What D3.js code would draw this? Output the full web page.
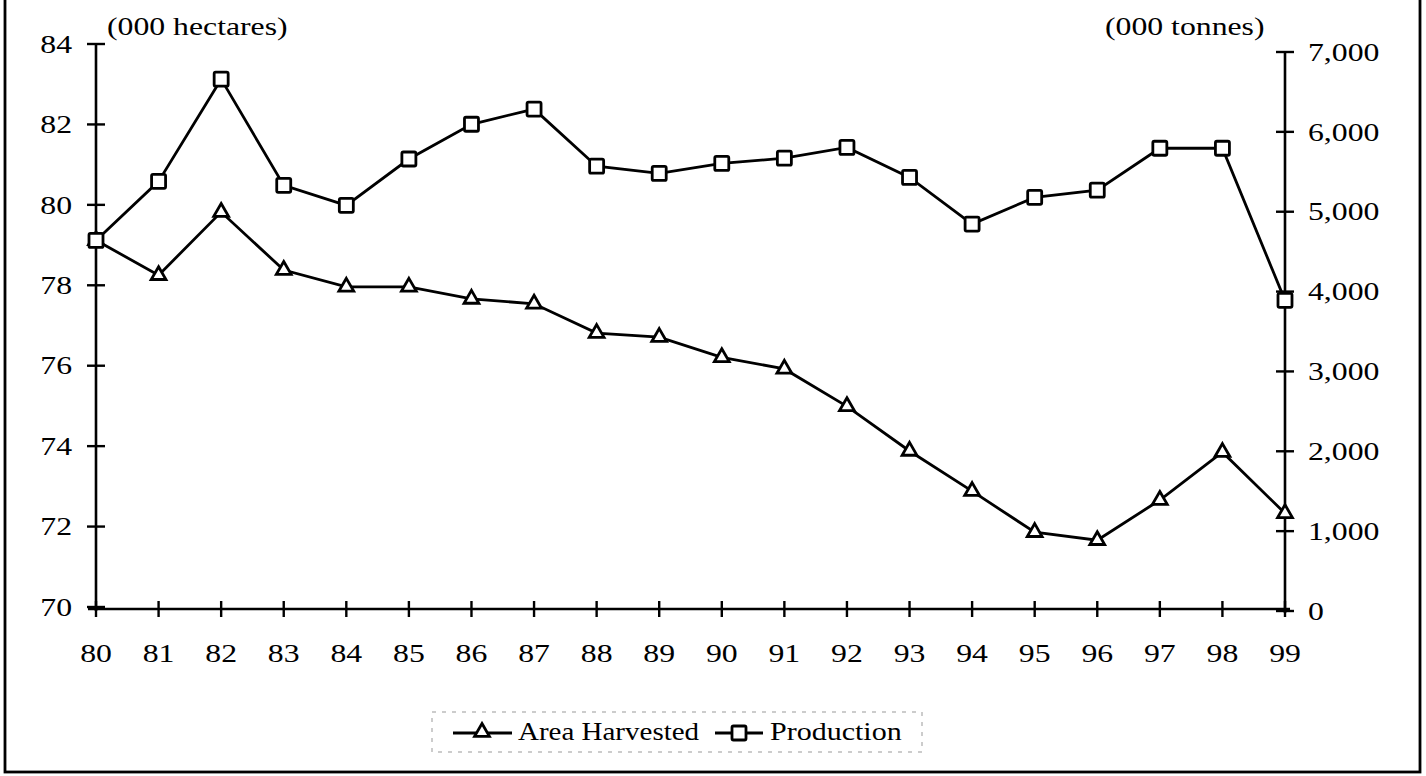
<!DOCTYPE html>
<html>
<head>
<meta charset="utf-8">
<script src="https://cdn.jsdelivr.net/npm/d3@7"></script>
<style>
    body { margin: 0; background: #fff; }
    svg text { font-family: "Liberation Serif", "Times New Roman", serif; fill: #000; }
</style>
</head>
<body>
<div id="chart"></div>
<script>
// years shown on the x axis (19xx)
var years = ["80", "81", "82", "83", "84", "85", "86", "87", "88", "89",
             "90", "91", "92", "93", "94", "95", "96", "97", "98", "99"];
// area harvested, 000 hectares (left axis)
var areaHarvested = [79.12, 78.25, 79.82, 78.38, 77.96, 77.96, 77.66, 77.54, 76.81, 76.71,
                     76.21, 75.92, 74.99, 73.88, 72.88, 71.86, 71.66, 72.66, 73.85, 72.33];
// production, 000 tonnes (right axis)
var production = [4640, 5380, 6660, 5330, 5080, 5660, 6095, 6285, 5570, 5480,
                  5605, 5670, 5805, 5430, 4845, 5180, 5270, 5795, 5795, 3890];
var leftTicks = [70, 72, 74, 76, 78, 80, 82, 84];
var rightTicks = [0, 1000, 2000, 3000, 4000, 5000, 6000, 7000];

var svgWidth = 1426;
var svgHeight = 776;
var fontSize = 25;
var stretch = 1.27;   // the scanned type is wide, so stretch it a bit

var svg = d3.select("#chart")
    .append("svg")
    .attr("width", svgWidth)
    .attr("height", svgHeight);

// outer frame
svg.append("rect")
    .attr("x", 5)
    .attr("y", -2)
    .attr("width", 1415)
    .attr("height", 774)
    .attr("fill", "none")
    .attr("stroke", "#000")
    .attr("stroke-width", 2.8);

var xScale = d3.scalePoint()
    .domain(years)
    .range([96, 1285]);

var yLeft = d3.scaleLinear()
    .domain([70, 84])
    .range([607, 44]);

var yRight = d3.scaleLinear()
    .domain([0, 7000])
    .range([611, 52]);

// axes: ticks cross the axis line, so draw them by hand through the scales
function crossTicks(g, vals, xf, yf, horizontal) {
    g.selectAll("line.tick")
        .data(vals)
        .enter()
        .append("line")
        .attr("x1", d => horizontal ? xf(d) : xf(d) - 9)
        .attr("x2", d => horizontal ? xf(d) : xf(d) + 9)
        .attr("y1", d => horizontal ? yf(d) - 8 : yf(d))
        .attr("y2", d => horizontal ? yf(d) + 8 : yf(d))
        .attr("stroke", "#000")
        .attr("stroke-width", 2.4);
}

function label(sel, xf, yf, sx) {
    return sel
        .attr("transform", (d, i) => `translate(${xf(d, i)}, ${yf(d, i)}) scale(${sx || stretch}, 1)`)
        .attr("font-size", fontSize);
}

var axes = svg.append("g");

// left axis
axes.append("line")
    .attr("x1", 96).attr("x2", 96)
    .attr("y1", yLeft(84)).attr("y2", yLeft(70) + 4)
    .attr("stroke", "#000").attr("stroke-width", 2.6);
crossTicks(axes.append("g"), leftTicks, d => 96, d => yLeft(d), false);
label(axes.append("g").selectAll("text")
    .data(leftTicks)
    .enter()
    .append("text"), d => 72, d => yLeft(d))
    .attr("dy", "0.35em")
    .attr("text-anchor", "end")
    .text(d => d);

// right axis
axes.append("line")
    .attr("x1", 1285).attr("x2", 1285)
    .attr("y1", yRight(7000)).attr("y2", yRight(0) + 2)
    .attr("stroke", "#000").attr("stroke-width", 2.6);
crossTicks(axes.append("g"), rightTicks, d => 1285, d => yRight(d), false);
label(axes.append("g").selectAll("text")
    .data(rightTicks)
    .enter()
    .append("text"), d => 1308, d => yRight(d))
    .attr("dy", "0.35em")
    .text(d => d3.format(",")(d));

// bottom axis
var baseY = 609;
axes.append("line")
    .attr("x1", 88).attr("x2", 1290)
    .attr("y1", baseY).attr("y2", baseY)
    .attr("stroke", "#000").attr("stroke-width", 2.6);
crossTicks(axes.append("g"), years, d => xScale(d), d => baseY, true);
label(axes.append("g").selectAll("text")
    .data(years)
    .enter()
    .append("text"), d => xScale(d), d => 662)
    .attr("text-anchor", "middle")
    .text(d => d);

// unit labels
label(svg.append("text").datum(0), d => 107, d => 35)
    .text("(000 hectares)");
label(svg.append("text").datum(0), d => 1105, d => 35)
    .text("(000 tonnes)");

// series
var areaLine = d3.line()
    .x((d, i) => xScale(years[i]))
    .y(d => yLeft(d));
var prodLine = d3.line()
    .x((d, i) => xScale(years[i]))
    .y(d => yRight(d));

svg.append("path")
    .datum(areaHarvested)
    .attr("d", areaLine)
    .attr("fill", "none")
    .attr("stroke", "#000")
    .attr("stroke-width", 2.8);

svg.append("path")
    .datum(production)
    .attr("d", prodLine)
    .attr("fill", "none")
    .attr("stroke", "#000")
    .attr("stroke-width", 2.8);

var triangle = d3.symbol().type(d3.symbolTriangle).size(95);

svg.append("g").selectAll("path")
    .data(areaHarvested)
    .enter()
    .append("path")
    .attr("d", triangle)
    .attr("transform", (d, i) => `translate(${xScale(years[i])}, ${yLeft(d)})`)
    .attr("fill", "#fff")
    .attr("stroke", "#000")
    .attr("stroke-width", 2.8);

svg.append("g").selectAll("rect")
    .data(production)
    .enter()
    .append("rect")
    .attr("x", (d, i) => xScale(years[i]) - 7)
    .attr("y", d => yRight(d) - 7)
    .attr("width", 14)
    .attr("height", 14)
    .attr("rx", 1.5)
    .attr("fill", "#fff")
    .attr("stroke", "#000")
    .attr("stroke-width", 2.8);

// legend
var legend = svg.append("g");
legend.append("rect")
    .attr("x", 432).attr("y", 712)
    .attr("width", 490).attr("height", 40)
    .attr("fill", "none")
    .attr("stroke", "#999")
    .attr("stroke-width", 1)
    .attr("stroke-dasharray", "4,6");

legend.append("line")
    .attr("x1", 453).attr("x2", 512)
    .attr("y1", 733).attr("y2", 733)
    .attr("stroke", "#000").attr("stroke-width", 2.8);
legend.append("path")
    .attr("d", triangle)
    .attr("transform", "translate(482, 732)")
    .attr("fill", "#fff")
    .attr("stroke", "#000")
    .attr("stroke-width", 2.8);
label(legend.append("text").datum(0), d => 518, d => 740, 1.16)
    .text("Area Harvested");

legend.append("line")
    .attr("x1", 715).attr("x2", 763)
    .attr("y1", 733).attr("y2", 733)
    .attr("stroke", "#000").attr("stroke-width", 2.8);
legend.append("rect")
    .attr("x", 732).attr("y", 726)
    .attr("width", 14).attr("height", 14)
    .attr("rx", 1.5)
    .attr("fill", "#fff")
    .attr("stroke", "#000")
    .attr("stroke-width", 2.8);
label(legend.append("text").datum(0), d => 770, d => 740, 1.2)
    .text("Production");
</script>
</body>
</html>
